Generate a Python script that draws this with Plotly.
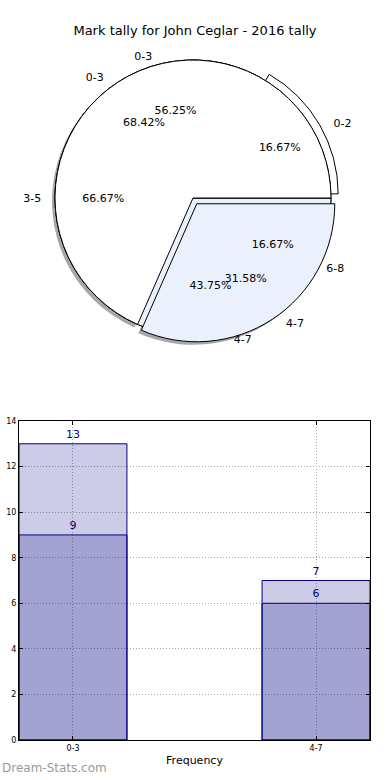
import plotly.graph_objects as go

# ---------------- data ----------------
title_text = "Mark tally for John Ceglar - 2016 tally"

pie1_labels = ["0-3", "4-7"]
pie1_values = [13, 6]
pie2_labels = ["0-3", "4-7"]
pie2_values = [9, 7]
pie3_labels = ["0-2", "3-5", "6-8"]
pie3_values = [1, 4, 1]

bar_categories = ["0-3", "4-7"]
bar_back_values = [13, 7]
bar_front_values = [9, 6]

y_ticks = [0, 2, 4, 6, 8, 10, 12, 14]
x_title = "Frequency"
watermark = "Dream-Stats.com"

# ---------------- layout helpers ----------------
W, H = 390, 780
FONT = "DejaVu Sans"
CX, CY, R = 193, 198, 138

WHITE = "#ffffff"
LIGHT = "#eaf0fc"
PAD = "\u00a0\u00a0\u00a0"


def pie_domain(pulls, dx=0, dy=0):
    half = R * (1 + max(pulls))
    cx, cy = CX + dx, CY + dy
    return dict(x=[(cx - half) / W, (cx + half) / W],
                y=[(H - cy - half) / H, (H - cy + half) / H])


# slices go counter-clockwise from 3 o'clock (as in the original); plotly
# draws clockwise from the rotation point, so the slice order is reversed.
def rev(seq):
    return list(seq)[::-1]


def draw_pie(labels, values, colors, pulls, dx=0, dy=0, lw=1, opacity=1.0):
    return go.Pie(labels=rev(labels), values=rev(values), sort=False,
                  direction="clockwise", rotation=90,
                  pull=rev(pulls), domain=pie_domain(pulls, dx, dy),
                  marker=dict(colors=rev(colors),
                              line=dict(color="black", width=lw)),
                  textinfo="none", hoverinfo="skip", showlegend=False,
                  automargin=False, opacity=opacity)


def text_pie(labels, values, pulls, mode):
    common = dict(labels=rev(labels), values=rev(values), sort=False,
                  direction="clockwise", rotation=90,
                  pull=rev(pulls), domain=pie_domain(pulls),
                  marker=dict(colors=["rgba(0,0,0,0)"] * len(values),
                              line=dict(width=0)),
                  hoverinfo="skip", showlegend=False, automargin=False,
                  textfont=dict(family=FONT, size=11, color="black"))
    if mode == "pct":
        return go.Pie(texttemplate="%{percent:.2%}", textposition="inside",
                      insidetextorientation="horizontal", hole=0.3, **common)
    return go.Pie(texttemplate=PAD + "%{label}" + PAD, textposition="outside",
                  **common)


pull1 = [0, 0.05]
pull2 = [0, 0.0]
pull3 = [0.06, 0, 0]

fig = go.Figure()

# soft shadow under the pies
fig.add_trace(draw_pie(pie1_labels, pie1_values, ["#8a8a8a", "#8a8a8a"], pull1,
                       dx=-3, dy=3, lw=0, opacity=0.75))

fig.add_trace(draw_pie(pie3_labels, pie3_values, [WHITE, WHITE, LIGHT], pull3))
fig.add_trace(draw_pie(pie2_labels, pie2_values, [WHITE, LIGHT], pull2))
fig.add_trace(draw_pie(pie1_labels, pie1_values, [WHITE, LIGHT], pull1))

for labs, vals, pl in [(pie1_labels, pie1_values, pull1),
                       (pie2_labels, pie2_values, pull2),
                       (pie3_labels, pie3_values, pull3)]:
    fig.add_trace(text_pie(labs, vals, pl, "pct"))
    fig.add_trace(text_pie(labs, vals, pl, "lbl"))

# ---------------- bars ----------------
bar_fill = "rgba(0,0,128,0.2)"
for vals in (bar_back_values, bar_front_values):
    fig.add_trace(go.Bar(x=bar_categories, y=vals, width=0.444,
                         marker=dict(color=bar_fill, line=dict(color="#000080", width=1)),
                         text=vals, textposition="outside", cliponaxis=False,
                         textfont=dict(family=FONT, size=11, color="#00008b"),
                         hoverinfo="skip", showlegend=False,
                         xaxis="x", yaxis="y"))

grid = dict(showgrid=True, gridcolor="#a8a8a8", griddash="1px,2px", gridwidth=1)

fig.update_layout(
    width=W, height=H,
    margin=dict(l=0, r=0, t=0, b=0, pad=0, autoexpand=False),
    paper_bgcolor="white", plot_bgcolor="white",
    barmode="overlay", showlegend=False,
    font=dict(family=FONT, color="black"),
    title=dict(text=title_text, x=0.5, xanchor="center", y=1 - 30 / H,
               yanchor="middle", font=dict(family=FONT, size=13, color="black")),
    xaxis=dict(domain=[19 / W, 370 / W], type="category", range=[-0.222, 1.222],
               showline=True, linecolor="black", linewidth=1, mirror="ticks",
               ticks="inside", ticklen=4, tickcolor="black",
               tickfont=dict(family=FONT, size=8, color="black"),
               title=dict(text=x_title, font=dict(family=FONT, size=11, color="black"),
                          standoff=4),
               automargin=False, zeroline=False, **grid),
    yaxis=dict(domain=[40 / H, 359 / H], range=[0, 14], tickvals=y_ticks,
               showline=True, linecolor="black", linewidth=1, mirror="ticks",
               ticks="inside", ticklen=4, tickcolor="black",
               tickfont=dict(family=FONT, size=8, color="black"),
               automargin=False, zeroline=False, **grid),
    annotations=[dict(text=watermark, x=0, y=12 / H, xref="paper", yref="paper",
                      xanchor="left", yanchor="middle", showarrow=False,
                      font=dict(family=FONT, size=12, color="#9a9a9a"))],
)

fig.write_html("out.html", config={"displayModeBar": False},
               post_script="document.body.style.margin='0';document.body.style.padding='0';")
